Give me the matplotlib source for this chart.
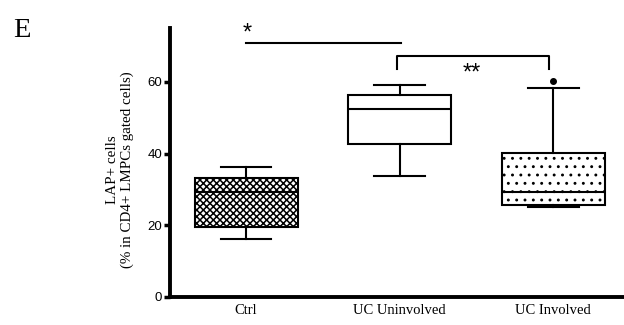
import matplotlib
matplotlib.use("Agg")
import matplotlib.pyplot as plt

# LAP+ cell fractions per group (box summary values)
groups = ["Ctrl", "UC Uninvolved", "UC Involved"]
whisker_low = [16.1, 33.6, 25.0]
q1 = [19.6, 42.6, 25.7]
medians = [29.4, 52.4, 29.4]
q3 = [33.1, 56.2, 40.1]
whisker_high = [36.3, 59.1, 58.2]
outliers = [[], [], [60.3]]
hatches = ["xxxxx", None, ".."]
yticks = [0, 20, 40, 60]

serif = ["Liberation Serif", "DejaVu Serif"]
sans = ["Liberation Sans", "DejaVu Sans"]

fig = plt.figure(figsize=(6.24, 3.25), dpi=100)
ax = fig.add_axes([0.2724, 0.0862, 0.7276, 0.8277])

stats = []
for i, name in enumerate(groups):
    stats.append(dict(label=name, whislo=whisker_low[i], q1=q1[i], med=medians[i],
                      q3=q3[i], whishi=whisker_high[i], fliers=outliers[i]))

lw = 1.5
bp = ax.bxp(stats, positions=[1, 2, 3], widths=0.67, patch_artist=True,
            capwidths=0.33,
            boxprops=dict(facecolor="white", edgecolor="black", linewidth=lw),
            medianprops=dict(color="black", linewidth=lw),
            whiskerprops=dict(color="black", linewidth=lw),
            capprops=dict(color="black", linewidth=lw),
            flierprops=dict(marker="o", markersize=4, markerfacecolor="black",
                            markeredgecolor="black"))

for box, h in zip(bp["boxes"], hatches):
    if h:
        box.set_hatch(h)
        box.set_hatch_linewidth(1.1 if h.startswith("x") else 0.9)

ax.set_xlim(0.505, 3.46)
ax.set_ylim(0, 75)
ax.set_yticks(yticks)
ax.set_xticks([1, 2, 3])
ax.set_xticklabels(groups, fontfamily=serif, fontsize=10.5)
ax.tick_params(axis="x", length=0, pad=5)
ax.tick_params(axis="y", length=4, width=2.5, labelsize=9.5, pad=1.5)
for lab in ax.get_yticklabels():
    lab.set_fontfamily(sans)

for side in ["top", "right"]:
    ax.spines[side].set_visible(False)
for side in ["left", "bottom"]:
    ax.spines[side].set_linewidth(2.8)

ax.set_ylabel("LAP+ cells\n(% in CD4+ LMPCs gated cells)", fontfamily=serif,
              fontsize=10.8, linespacing=1.2)
ax.yaxis.label.set_va("center")
ax.yaxis.set_label_coords(-0.110, 0.475)

# significance brackets
ax.plot([1, 2.01], [70.9, 70.9], color="black", linewidth=lw, clip_on=False)
ax.text(1.01, 73.4, "*", ha="center", va="center", fontsize=17,
        fontfamily=sans, clip_on=False)
ax.plot([1.98, 1.98, 2.97, 2.97], [63.6, 67.2, 67.2, 63.6], color="black",
        linewidth=lw, clip_on=False)
ax.text(2.47, 62.2, "**", ha="center", va="center", fontsize=17,
        fontfamily=sans)

fig.text(0.021, 0.945, "E", fontfamily=serif, fontsize=20.5, va="top", ha="left")

fig.savefig("out.png", dpi=100, facecolor="white")
